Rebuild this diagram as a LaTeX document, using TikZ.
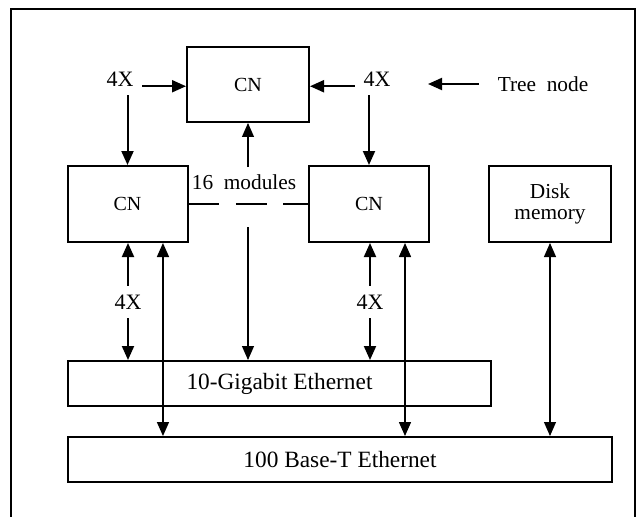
\documentclass[tikz,border=0pt]{standalone}
\usepackage{fontspec}
\setmainfont{Liberation Serif}
\usepackage{tikz}
\usetikzlibrary{arrows.meta}
\usetikzlibrary{calc, positioning}
\tikzstyle{cnbox}=[rectangle, draw, line width=1.5pt, minimum width=90pt, minimum height=57pt, inner sep=0pt]
\tikzstyle{netbox}=[rectangle, draw, line width=1.5pt, minimum height=33.75pt, inner sep=0pt, font=\fontsize{17.5pt}{20pt}\selectfont]
\tikzstyle{fourx}=[inner sep=6pt, font=\fontsize{16.5pt}{18pt}\selectfont]
\tikzstyle{thin}=[line width=0.8pt]

\begin{document}
\begin{tikzpicture}[x=0.75pt, y=-0.75pt]

\tikzset{>={Triangle[length=10.5pt, width=9pt]}}
\tikzset{every node/.style={font=\fontsize{15pt}{17pt}\selectfont}}
\tikzset{every path/.style={line width=1.5pt}}

\useasboundingbox (0,0) rectangle (643,517);

% Outer frame
\draw[line width=1.2pt] (11,530) -- (11,9) -- (635,9) -- (635,530);

% Compute nodes
\node[cnbox, minimum width=91.5pt, minimum height=56.25pt] (cn0) at (248,84.5) {CN};
\node[cnbox] (cnl) at (127.5,204) {CN};
\node[cnbox] (cnr) at (369,204) {CN};
\node[cnbox, minimum width=91.5pt, align=center, font=\fontsize{16pt}{16pt}\selectfont] (disk) at (550,204) {Disk\\memory};

% Networks
\node[netbox, minimum width=317.25pt] (gbe) at (279.5,383.5) {10-Gigabit Ethernet};
\node[netbox, minimum width=408pt] (fast) at (340,459.5) {100 Base-T Ethernet};

% Labels
\node[fourx] (xtl) at (120,79) {4X};
\node[fourx] (xtr) at (377,79) {4X};
\node[fourx] (xbl) at (128,302) {4X};
\node[fourx] (xbr) at (370,302) {4X};
\node[inner sep=6pt, font=\fontsize{16pt}{18pt}\selectfont] (tree) at (543,84) {Tree~~node};
\node[inner sep=0pt, font=\fontsize{16pt}{18pt}\selectfont] (mods) at (244,182) {16~~modules};
\coordinate (treetip) at (428,84);
\coordinate (modtop) at (248,167);
\coordinate (modbot) at (248,227);

% 4X links of the tree
\draw[->] (xtl.base east) -- (cn0.west |- xtl.base east); % 4X -> top CN
\draw[->] (xtl.south -| cnl.north) -- (cnl.north); % 4X -> left CN
\draw[->] (xtr.base west) -- (cn0.east |- xtr.base west); % 4X -> top CN
\draw[->] (xtr.south -| cnr.north) -- (cnr.north); % 4X -> right CN
\draw[->] ([xshift=-7.5pt]tree.west) -- (treetip); % tree node pointer

% 16 modules
\draw[dash pattern=on 23pt off 12.5pt, line width=1.2pt] (cnl.east) -- (cnr.west);
\draw[->, thin] (modtop) -- (cn0.south);
\draw[->, thin] (modbot) -- (modbot |- gbe.north);

% 4X links to 10-Gigabit Ethernet
\draw[->] (xbl.north) -- (xbl.north |- cnl.south);
\draw[->] (xbl.south) -- (xbl.south |- gbe.north);
\draw[->] (xbr.north) -- (xbr.north |- cnr.south);
\draw[->] (xbr.south) -- (xbr.south |- gbe.north);

% 100 Base-T links
\draw[<->, line width=1.1pt] ([xshift=26.6pt]cnl.south) -- ([xshift=26.6pt]cnl.south |- fast.north);
\draw[<->, line width=1.1pt] ([xshift=27pt]cnr.south) -- ([xshift=27pt]cnr.south |- fast.north);
\draw[<->, thin] (disk.south) -- (disk.south |- fast.north);

\end{tikzpicture}
\end{document}
